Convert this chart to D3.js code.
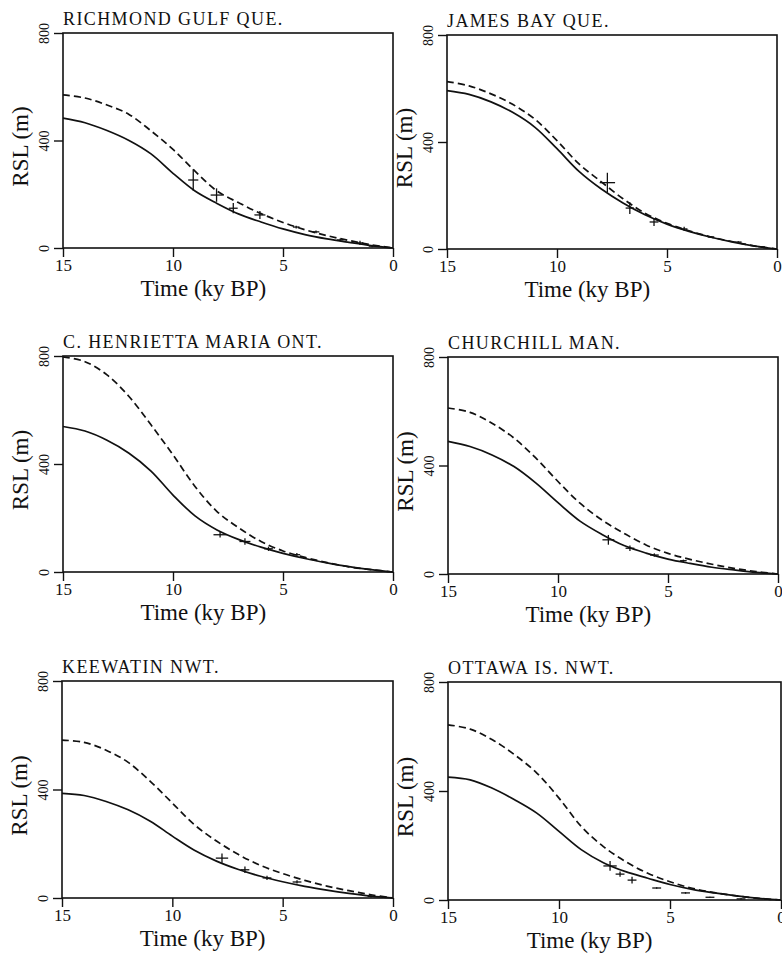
<!DOCTYPE html>
<html>
<head>
<meta charset="utf-8">
<script src="https://cdn.jsdelivr.net/npm/d3@7"></script>
<style>
  body { margin: 0; background: #fff; }
  svg { display: block; }
  svg text { font-family: 'Liberation Serif', 'Times New Roman', 'DejaVu Serif', serif; fill: #111; }
</style>
</head>
<body>
<svg id="chart" width="782" height="959"></svg>
<script>
// sample times (ky BP) shared by all model curves
var times = [15, 14, 13, 12, 11, 10, 9, 8, 7, 6, 5, 4, 3, 2, 1, 0];
var xTicks = [15, 10, 5, 0];
var yTicks = [0, 400, 800];

var titles = ['RICHMOND GULF QUE.', 'JAMES BAY QUE.', 'C. HENRIETTA MARIA ONT.',
              'CHURCHILL MAN.', 'KEEWATIN NWT.', 'OTTAWA IS. NWT.'];

// model RSL (m), solid and dashed, one value per entry of times
var solid1  = [483, 466, 437, 400, 350, 278, 212, 166, 126, 97, 71, 50, 34, 21, 9, 0];
var dashed1 = [570, 558, 532, 497, 436, 367, 286, 212, 168, 128, 95, 68, 46, 28, 12, 0];
var solid2  = [592, 578, 550, 510, 455, 375, 290, 225, 172, 128, 93, 66, 44, 26, 11, 0];
var dashed2 = [626, 610, 580, 540, 485, 405, 318, 252, 188, 134, 96, 68, 45, 27, 11, 0];
var solid3  = [539, 522, 488, 440, 374, 285, 208, 156, 120, 92, 69, 50, 34, 20, 9, 0];
var dashed3 = [797, 779, 730, 650, 545, 434, 317, 224, 163, 113, 78, 54, 35, 19, 9, 0];
var solid4  = [489, 470, 439, 396, 335, 263, 195, 146, 105, 77, 55, 39, 25, 15, 6, 0];
var dashed4 = [612, 596, 556, 501, 427, 341, 261, 199, 150, 107, 76, 54, 36, 21, 9, 0];
var solid5  = [386, 378, 356, 325, 283, 228, 176, 136, 105, 80, 60, 43, 29, 17, 7, 0];
var dashed5 = [582, 574, 545, 500, 430, 350, 270, 210, 160, 120, 90, 65, 44, 27, 12, 0];
var solid6  = [451, 441, 410, 368, 319, 252, 185, 137, 104, 80, 57, 39, 26, 15, 6, 0];
var dashed6 = [643, 627, 588, 533, 466, 374, 270, 196, 141, 98, 67, 43, 27, 15, 6, 0];

// observations: [time, rsl, time error, rsl error]
var obs1 = [[9.08, 253, 0.23, 40], [8.02, 197, 0.27, 25], [7.26, 148, 0.2, 19], [6.05, 123, 0.25, 15],
            [4.4, 78, 0.15, 5], [3.5, 60, 0.15, 5], [2.4, 30, 0.15, 5], [1.5, 19, 0.15, 8], [0.95, 7, 0.15, 4]];
var obs2 = [[7.71, 248, 0.35, 37], [6.69, 153, 0.19, 22], [5.59, 101, 0.2, 15], [4.22, 75, 0.15, 8],
            [3.0, 45, 0.15, 3], [1.76, 26, 0.15, 3], [0.7, 8, 0.15, 3]];
var obs3 = [[7.86, 138, 0.3, 10], [6.73, 113, 0.25, 12], [5.66, 86, 0.2, 8], [4.37, 64, 0.15, 6]];
var obs4 = [[7.71, 126, 0.27, 18], [6.73, 95, 0.2, 10], [5.62, 70, 0.2, 6], [4.3, 49, 0.15, 4]];
var obs5 = [[7.75, 147, 0.28, 17], [6.71, 104, 0.2, 12], [5.71, 74, 0.2, 8], [4.35, 59, 0.2, 6], [1.0, 6, 0.15, 4]];
var obs6 = [[7.7, 125, 0.3, 18], [7.25, 95, 0.2, 10], [6.71, 73, 0.2, 12], [5.6, 44, 0.2, 3],
            [4.3, 26, 0.2, 3], [3.2, 10, 0.2, 2], [1.8, 4, 0.2, 2]];

var solids = [solid1, solid2, solid3, solid4, solid5, solid6];
var dashes = [dashed1, dashed2, dashed3, dashed4, dashed5, dashed6];
var observations = [obs1, obs2, obs3, obs4, obs5, obs6];

// panel boxes on the page
var layout = [
  { left: 63,  top: 33,  w: 330, h: 215 },
  { left: 447, top: 35,  w: 330, h: 214 },
  { left: 63,  top: 356, w: 330, h: 216 },
  { left: 448, top: 357, w: 330, h: 217 },
  { left: 62,  top: 681, w: 331, h: 217 },
  { left: 448, top: 682, w: 333, h: 218 }
];

var ink = '#111';
var svg = d3.select('#chart');

function drawPanel(k) {
  var p = layout[k];
  var x = d3.scaleLinear().domain([15, 0]).range([0, p.w]);
  var y = d3.scaleLinear().domain([0, 800]).range([p.h, 0]);

  var g = svg.append('g')
      .attr('transform', 'translate(' + p.left + ',' + p.top + ')');

  // x axis (ticks + labels only, frame drawn below)
  var xa = g.append('g')
      .attr('transform', 'translate(0,' + p.h + ')')
      .call(d3.axisBottom(x).tickValues(xTicks).tickSize(9).tickPadding(2).tickFormat(d3.format('d')));
  xa.select('.domain').remove();
  xa.attr('font-size', 17);
  xa.selectAll('line').attr('stroke', ink).attr('stroke-width', 1.4);

  // y axis, labels turned on their side
  var ya = g.append('g')
      .call(d3.axisLeft(y).tickValues(yTicks).tickSize(9).tickFormat(d3.format('d')));
  ya.select('.domain').remove();
  ya.attr('font-size', 14);
  ya.selectAll('line').attr('stroke', ink).attr('stroke-width', 1.4);
  ya.selectAll('text')
      .attr('x', null).attr('dy', null)
      .attr('text-anchor', 'middle')
      .attr('transform', 'translate(-14,0) rotate(-90)');

  // frame
  g.append('rect')
      .attr('width', p.w).attr('height', p.h)
      .attr('fill', 'none').attr('stroke', ink).attr('stroke-width', 1.6);

  var line = d3.line()
      .x(function(d) { return x(d[0]); })
      .y(function(d) { return y(d[1]); })
      .curve(d3.curveCatmullRom.alpha(0.5));

  g.append('path')
      .attr('d', line(d3.zip(times, dashes[k])))
      .attr('fill', 'none').attr('stroke', ink).attr('stroke-width', 1.7)
      .attr('stroke-dasharray', '7,4');

  g.append('path')
      .attr('d', line(d3.zip(times, solids[k])))
      .attr('fill', 'none').attr('stroke', ink).attr('stroke-width', 1.7);

  // error crosses
  var cross = g.selectAll('g.obs')
      .data(observations[k])
      .enter().append('g').attr('class', 'obs');
  cross.append('line')
      .attr('x1', function(d) { return x(d[0] + d[2]); })
      .attr('x2', function(d) { return x(d[0] - d[2]); })
      .attr('y1', function(d) { return y(d[1]); })
      .attr('y2', function(d) { return y(d[1]); })
      .attr('stroke', ink).attr('stroke-width', 1.3);
  cross.append('line')
      .attr('x1', function(d) { return x(d[0]); })
      .attr('x2', function(d) { return x(d[0]); })
      .attr('y1', function(d) { return y(d[1] - d[3]); })
      .attr('y2', function(d) { return y(d[1] + d[3]); })
      .attr('stroke', ink).attr('stroke-width', 1.3);

  // texts
  g.append('text')
      .attr('x', 0).attr('y', -8)
      .attr('font-size', 18)
      .attr('letter-spacing', 1.4)
      .text(titles[k]);

  g.append('text')
      .attr('x', p.w * 0.425).attr('y', p.h + 48)
      .attr('text-anchor', 'middle')
      .attr('font-size', 23)
      .text('Time (ky BP)');

  g.append('text')
      .attr('transform', 'translate(-35,' + (p.h / 2 + 6) + ') rotate(-90)')
      .attr('text-anchor', 'middle')
      .attr('font-size', 23)
      .text('RSL (m)');
}

for (var k = 0; k < layout.length; k++) {
  drawPanel(k);
}
</script>
</body>
</html>
